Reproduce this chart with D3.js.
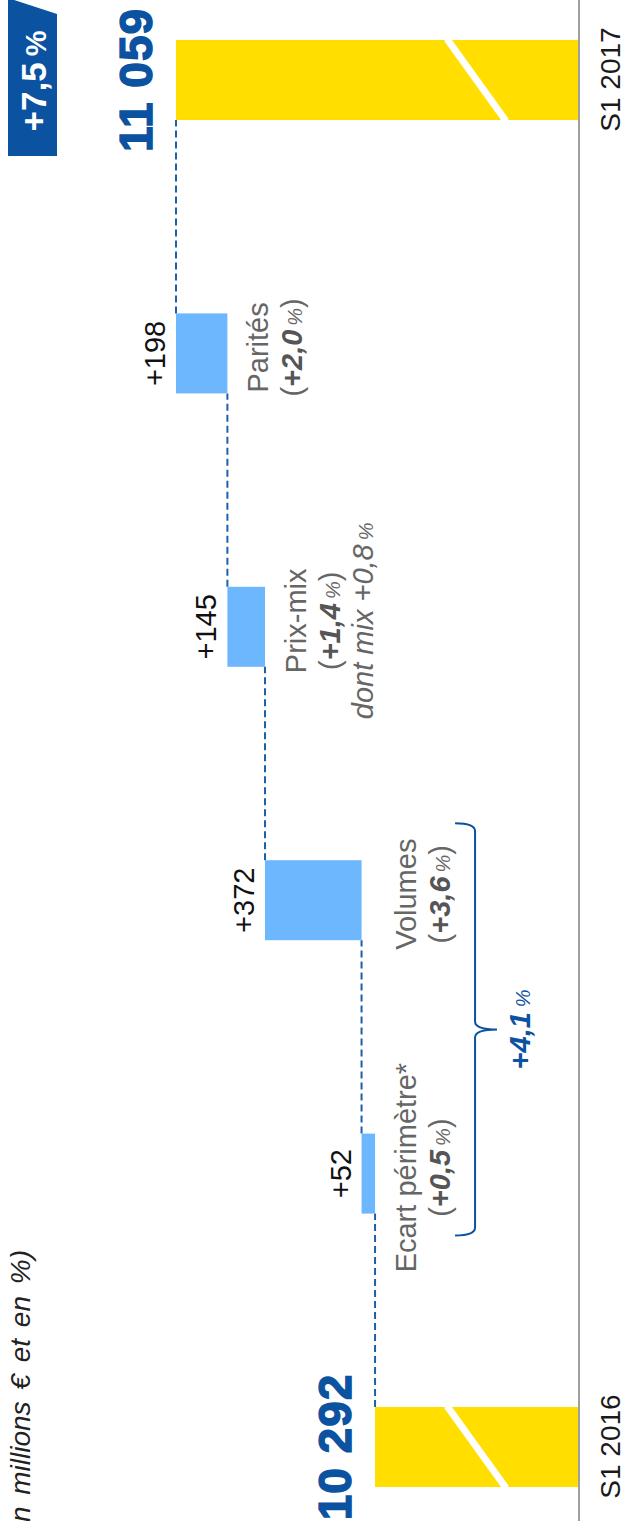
<!DOCTYPE html>
<html>
<head>
<meta charset="utf-8">
<script src="https://cdn.jsdelivr.net/npm/d3@7"></script>
<style>
  html, body { margin: 0; padding: 0; background: #fff; }
  svg { display: block; font-family: "Liberation Sans", Arial, Helvetica, sans-serif; }
</style>
</head>
<body>
<svg id="chart" width="627" height="1521"></svg>
<script>
// ---- data ----
const categories = ["S1 2016", "Ecart périmètre*", "Volumes", "Prix-mix", "Parités", "S1 2017"];
const values     = [10292, 52, 372, 145, 198, 11059];
const kinds      = ["total", "delta", "delta", "delta", "delta", "total"];
const pctLabels  = [null, "+0,5", "+3,6", "+1,4", "+2,0", null];
const subNotes   = [null, null, null, "dont mix +0,8", null, null];
const groupedCats = ["Ecart périmètre*", "Volumes"];
const groupedPct  = "+4,1";
const growthPct   = "+7,5";
const valueDomain = [9510, 11059];
const unitNote    = "(en millions € et en %)";

// ---- layout (chart is drawn in a landscape frame, then turned a quarter turn) ----
const W = 1521, H = 627;
const barW = 80;
const BLUE = "#0B52A1", LIGHT = "#6DB7FF", YELLOW = "#FFDE00", GREY = "#666666";

const fr = d3.formatLocale({ decimal: ",", thousands: " ", grouping: [3], currency: ["", "€"] });
const fmtTotal = fr.format(",");

const svg = d3.select("#chart");
const g = svg.append("g").attr("transform", `translate(0,${W}) rotate(-90)`);

const x = d3.scalePoint().domain(categories).range([74, 1441]);
const y = d3.scaleLinear().domain(valueDomain).range([578, 176]);

// running totals for the waterfall
let run = 0;
const rows = categories.map((c, i) => {
  let start, end;
  if (kinds[i] === "total") { start = valueDomain[0]; end = values[i]; }
  else { start = run; end = run + values[i]; }
  run = end;
  return { cat: c, kind: kinds[i], value: values[i], start, end, pct: pctLabels[i], note: subNotes[i] };
});

// dashed connectors between consecutive bars
for (let i = 0; i < rows.length - 1; i++) {
  const a = rows[i], b = rows[i + 1];
  g.append("line")
    .attr("x1", x(a.cat) + barW / 2).attr("x2", x(b.cat) - barW / 2)
    .attr("y1", y(a.end)).attr("y2", y(a.end))
    .attr("stroke", "#1D5FA8").attr("stroke-width", 2)
    .attr("stroke-dasharray", "7,4");
}

// bars
g.selectAll("rect.bar").data(rows).join("rect")
  .attr("class", "bar")
  .attr("x", d => x(d.cat) - barW / 2)
  .attr("width", barW)
  .attr("y", d => y(Math.max(d.start, d.end)))
  .attr("height", d => Math.abs(y(d.start) - y(d.end)))
  .attr("fill", d => d.kind === "total" ? YELLOW : LIGHT);

// axis-break stripe across the total bars
const base = y(valueDomain[0]);
g.selectAll("line.brk").data(rows.filter(d => d.kind === "total")).join("line")
  .attr("class", "brk")
  .attr("x1", d => x(d.cat) - barW / 2 - 1).attr("y1", base - 72)
  .attr("x2", d => x(d.cat) + barW / 2 + 1).attr("y2", base - 131)
  .attr("stroke", "#fff").attr("stroke-width", 7);

// baseline + category axis for the totals
g.append("line").attr("x1", 0).attr("x2", W).attr("y1", base + 1).attr("y2", base + 1)
  .attr("stroke", "#7f7f7f").attr("stroke-width", 1.5);
const axis = g.append("g").attr("transform", `translate(0,${base + 1})`)
  .call(d3.axisBottom(x).tickValues(categories.filter((c, i) => kinds[i] === "total"))
    .tickSize(0).tickPadding(21));
axis.select(".domain").remove();
axis.selectAll("text").attr("font-size", 28).attr("fill", "#1a1a1a")
  .attr("font-family", "Liberation Sans, Arial, sans-serif");

// total value labels
g.selectAll("text.total").data(rows.filter(d => d.kind === "total")).join("text")
  .attr("class", "total")
  .attr("x", d => x(d.cat)).attr("y", d => y(d.end) - 24)
  .attr("text-anchor", "middle")
  .attr("font-size", 46).attr("font-weight", "bold")
  .attr("letter-spacing", 1)
  .attr("fill", BLUE).attr("stroke", BLUE).attr("stroke-width", 1.4)
  .text(d => fmtTotal(d.value));

// delta value labels
const deltas = rows.filter(d => d.kind === "delta");
g.selectAll("text.delta").data(deltas).join("text")
  .attr("class", "delta")
  .attr("x", d => x(d.cat)).attr("y", d => y(d.end) - 11)
  .attr("text-anchor", "middle").attr("font-size", 29).attr("fill", "#111")
  .text(d => "+" + d.value);

// category descriptions under each delta bar
const groupBottom = d3.max(deltas.filter(d => groupedCats.includes(d.cat)), d => y(d.start));
const labelTop = d => (groupedCats.includes(d.cat) ? groupBottom : y(d.start)) + 41;
const lineGap = 33.5, labelShift = 6;

deltas.forEach(d => {
  const cx = x(d.cat) + labelShift;
  const y0 = labelTop(d);
  g.append("text").attr("x", cx).attr("y", y0)
    .attr("text-anchor", "middle").attr("font-size", 29).attr("fill", GREY)
    .text(d.cat);
  const t = g.append("text").attr("x", cx).attr("y", y0 + lineGap)
    .attr("text-anchor", "middle").attr("font-size", 29).attr("fill", GREY);
  t.append("tspan").text("(");
  t.append("tspan").attr("font-weight", "bold").attr("font-style", "italic").attr("fill", "#555").text(d.pct);
  t.append("tspan").attr("font-size", 20).attr("font-style", "italic").attr("dx", 4).text("%");
  t.append("tspan").text(")");
  if (d.note) {
    const n = g.append("text").attr("x", cx).attr("y", y0 + 2 * lineGap)
      .attr("text-anchor", "middle").attr("font-size", 29).attr("font-style", "italic").attr("fill", GREY);
    n.append("tspan").text(d.note);
    n.append("tspan").attr("font-size", 20).attr("dx", 4).text("%");
  }
});

// curly brace grouping the volume effects
const bx0 = x(groupedCats[0]) - 62, bx1 = x(groupedCats[1]) + 77, bm = (bx0 + bx1) / 2;
const by0 = groupBottom + 80, by1 = by0 + 20, byTip = by1 + 22;
g.append("path")
  .attr("d", `M${bx1},${by0} Q${bx1},${by1} ${bx1 - 8},${by1} L${bm + 8},${by1} Q${bm},${by1} ${bm},${byTip}` +
             ` Q${bm},${by1} ${bm - 8},${by1} L${bx0 + 8},${by1} Q${bx0},${by1} ${bx0},${by0}`)
  .attr("fill", "none").attr("stroke", BLUE).attr("stroke-width", 2);
const gp = g.append("text").attr("x", bm).attr("y", byTip + 33)
  .attr("text-anchor", "middle").attr("fill", BLUE).attr("font-style", "italic");
gp.append("tspan").attr("font-size", 29).attr("font-weight", "bold").text(groupedPct);
gp.append("tspan").attr("font-size", 20).attr("dx", 5).text("%");

// overall growth badge above the final total
const last = rows[rows.length - 1];
const bcx = x(last.cat);
g.append("path")
  .attr("d", `M${bcx - 76},8 L${W + 2},8 L${bcx + 66},57 L${bcx - 76},57 Z`)
  .attr("fill", BLUE);
const gt = g.append("text").attr("x", bcx - 1).attr("y", 46)
  .attr("text-anchor", "middle").attr("fill", "#fff").attr("font-weight", "bold");
gt.append("tspan").attr("font-size", 35).text(growthPct);
gt.append("tspan").attr("font-size", 29).attr("dx", 6).text("%");

// unit note
g.append("text").attr("x", 271).attr("y", 30)
  .attr("text-anchor", "end").attr("font-size", 28).attr("font-style", "italic")
  .attr("word-spacing", 4).attr("fill", "#222")
  .text(unitNote);
</script>
</body>
</html>
